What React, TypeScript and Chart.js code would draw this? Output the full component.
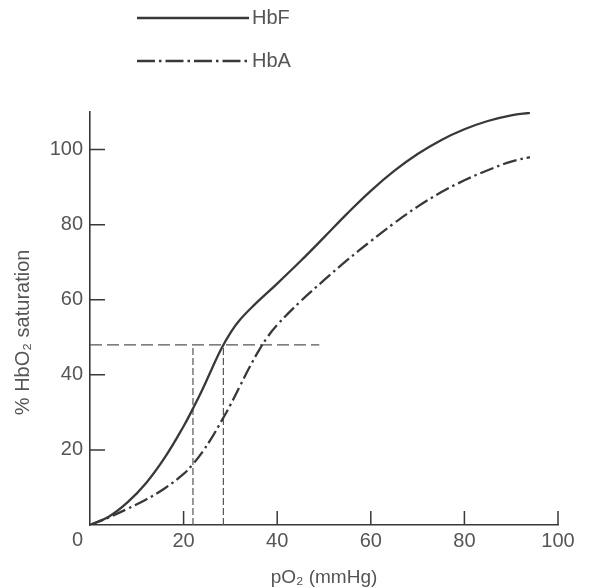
import React, { useEffect, useRef } from "react";
import { Chart, registerables } from "chart.js";

Chart.register(...registerables);

// ---- data ----
const seriesLabels = ["HbF", "HbA"];
const hbfX = [0, 4, 8, 12, 16, 20, 22, 24, 26, 28, 30, 32, 35, 40, 45, 50, 55, 60, 65, 70, 75, 80, 85, 90, 94];
const hbfY = [0, 2.2, 6, 11.2, 18, 26.3, 31, 36, 41.5, 46.8, 51.2, 54.6, 58.5, 64.3, 70.3, 76.6, 83, 89, 94.3, 98.8, 102.5, 105.4, 107.6, 109.1, 109.8];
const hbaX = [0, 4, 8, 12, 16, 20, 22, 24, 26, 28, 30, 32, 34, 36, 38, 40, 45, 50, 55, 60, 65, 70, 75, 80, 85, 90, 94];
const hbaY = [0, 2, 4.3, 6.8, 9.8, 13.6, 16.2, 19.4, 23.2, 27.5, 32, 36.9, 41.8, 46.3, 50.2, 53.3, 59.6, 65.2, 70.6, 75.6, 80.4, 84.8, 88.6, 91.8, 94.5, 96.8, 98];
const refSaturation = 48;
const refHorizontalX = [0, 49];
const refVerticalX = [22, 28.5];
const xTicks = [20, 40, 60, 80, 100];
const yTicks = [20, 40, 60, 80, 100];
const xTitle = "pO\u2082 (mmHg)";
const yTitle = "% HbO\u2082 saturation     ";
const originLabel = "0";

const INK = "#383838";
const TEXT = "#555555";
const FONT = "'Liberation Sans', Arial, sans-serif";

const toPoints = (xs: number[], ys: number[]) => xs.map((x, i) => ({ x, y: ys[i] }));

const innerTicksPlugin = {
  id: "innerTicks",
  afterDatasetsDraw(chart: any) {
    const { ctx, chartArea, scales } = chart;
    ctx.save();
    ctx.strokeStyle = INK;
    ctx.lineWidth = 1.5;
    ctx.beginPath();
    scales.x.ticks.forEach((t: any) => {
      const px = scales.x.getPixelForValue(t.value);
      ctx.moveTo(px, chartArea.bottom);
      ctx.lineTo(px, chartArea.bottom - 14);
    });
    scales.y.ticks.forEach((t: any) => {
      const py = scales.y.getPixelForValue(t.value);
      ctx.moveTo(chartArea.left, py);
      ctx.lineTo(chartArea.left + 15, py);
    });
    ctx.stroke();
    // origin label
    ctx.fillStyle = TEXT;
    ctx.font = `20px ${FONT}`;
    ctx.textAlign = "right";
    ctx.textBaseline = "middle";
    ctx.fillText(originLabel, chartArea.left - 7, chartArea.bottom + 15);
    ctx.restore();
  },
};

const lineLegendPlugin = {
  id: "lineLegend",
  afterDraw(chart: any) {
    const { ctx } = chart;
    const rows = [18, 61];
    ctx.save();
    chart.data.datasets.forEach((ds: any, i: number) => {
      if (!ds.inLegend) return;
      const y = rows[i];
      ctx.strokeStyle = ds.borderColor;
      ctx.lineWidth = ds.borderWidth;
      ctx.setLineDash(ds.legendDash || []);
      ctx.beginPath();
      ctx.moveTo(137, y);
      ctx.lineTo(249, y);
      ctx.stroke();
      ctx.setLineDash([]);
      ctx.fillStyle = TEXT;
      ctx.font = `20px ${FONT}`;
      ctx.textAlign = "left";
      ctx.textBaseline = "middle";
      ctx.fillText(ds.label, 252, y);
    });
    ctx.restore();
  },
};

export default function App() {
  const ref = useRef<HTMLCanvasElement | null>(null);
  useEffect(() => {
    if (!ref.current) return;
    const chart = new Chart(ref.current, {
      type: "line",
      data: {
        datasets: [
          {
            label: seriesLabels[0],
            data: toPoints(hbfX, hbfY),
            borderColor: INK,
            borderWidth: 2.3,
            pointRadius: 0,
            tension: 0.4,
            inLegend: true,
            legendDash: [],
          } as any,
          {
            label: seriesLabels[1],
            data: toPoints(hbaX, hbaY),
            borderColor: INK,
            borderWidth: 2.3,
            borderDash: [14, 4, 2.5, 4],
            pointRadius: 0,
            tension: 0.4,
            inLegend: true,
            legendDash: [18, 4, 2.5, 4],
          } as any,
          {
            label: "ref-h",
            data: refHorizontalX.map((x) => ({ x, y: refSaturation })),
            borderColor: "#555",
            borderWidth: 1.2,
            borderDash: [12, 5],
            pointRadius: 0,
            tension: 0,
          },
          ...refVerticalX.map((x, i) => ({
            label: "ref-v" + i,
            data: [
              { x, y: 0 },
              { x, y: refSaturation },
            ],
            borderColor: "#555",
            borderWidth: 1.2,
            borderDash: [7, 3],
            pointRadius: 0,
            tension: 0,
          })),
        ],
      },
      options: {
        responsive: false,
        animation: false,
        layout: { padding: { top: 112, right: 36, left: 0, bottom: 0 } },
        plugins: { legend: { display: false }, tooltip: { enabled: false } },
        scales: {
          x: {
            type: "linear",
            min: 0,
            max: 100,
            afterBuildTicks: (axis: any) => {
              axis.ticks = xTicks.map((v) => ({ value: v }));
            },
            afterFit: (axis: any) => {
              axis.height = 62;
            },
            grid: { display: false, drawTicks: false },
            border: { display: true, color: INK, width: 1.6 },
            ticks: { color: TEXT, font: { family: FONT, size: 20 }, padding: 4, maxRotation: 0 },
            title: {
              display: true,
              text: xTitle,
              color: TEXT,
              font: { family: FONT, size: 19, lineHeight: 1 },
              padding: { top: 0, bottom: 0 },
            },
          },
          y: {
            type: "linear",
            min: 0,
            max: 110,
            afterBuildTicks: (axis: any) => {
              axis.ticks = yTicks.map((v) => ({ value: v }));
            },
            afterFit: (axis: any) => {
              axis.width = 90;
            },
            grid: { display: false, drawTicks: false },
            border: { display: true, color: INK, width: 1.6 },
            ticks: { color: TEXT, font: { family: FONT, size: 20 }, padding: 7 },
            title: {
              display: true,
              text: yTitle,
              color: TEXT,
              font: { family: FONT, size: 20, lineHeight: 1 },
              padding: { top: 13, bottom: 0 },
            },
          },
        },
      } as any,
      plugins: [innerTicksPlugin, lineLegendPlugin],
    });
    return () => chart.destroy();
  }, []);
  return (
    <div style={{ position: "fixed", left: 0, top: 0, width: 594, height: 587, background: "#fff" }}>
      <canvas ref={ref} width={594} height={587} />
    </div>
  );
}
